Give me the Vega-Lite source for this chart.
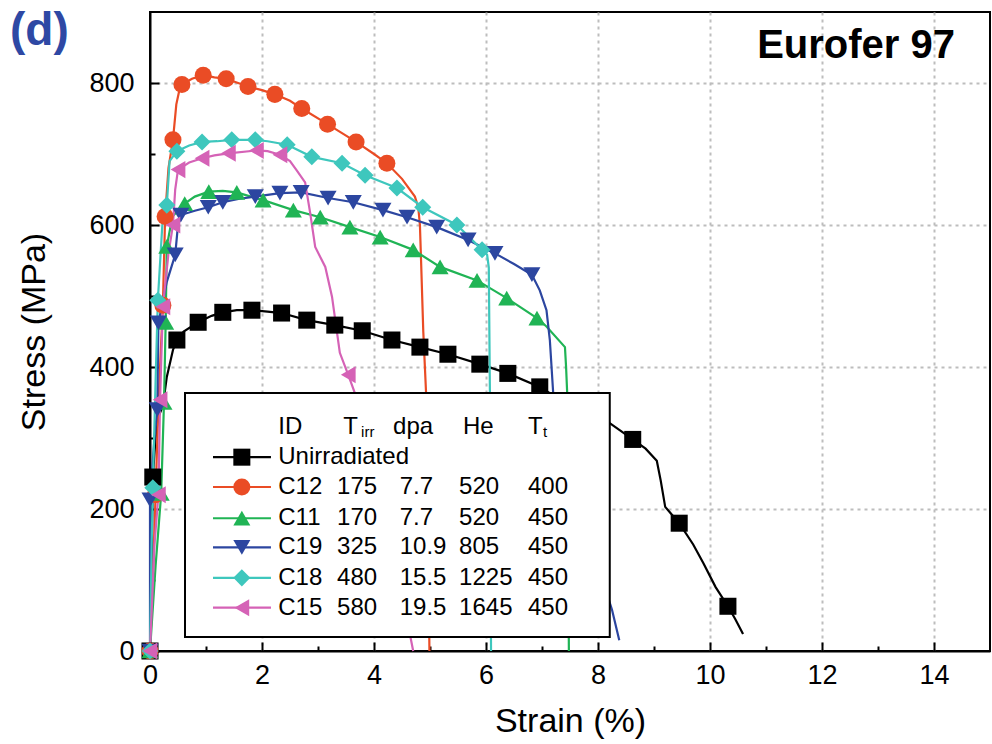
{
 "$schema": "https://vega.github.io/schema/vega-lite/v6.json",
 "width": 840, "height": 639,
 "autosize": {"type": "none"},
 "padding": {"left": 150, "top": 12, "right": 2, "bottom": 93},
 "background": "white",
 "config": {"view": {"stroke": "black", "strokeWidth": 2}, "font": "Liberation Sans"},
 "datasets": {
  "curves": [
   {"s":"Unirradiated","x":0,"y":0},{"s":"Unirradiated","x":0.03,"y":120},{"s":"Unirradiated","x":0.05,"y":245},{"s":"Unirradiated","x":0.1,"y":300},{"s":"Unirradiated","x":0.15,"y":330},{"s":"Unirradiated","x":0.23,"y":345},{"s":"Unirradiated","x":0.3,"y":386},{"s":"Unirradiated","x":0.41,"y":424},{"s":"Unirradiated","x":0.48,"y":438},{"s":"Unirradiated","x":0.6,"y":450},{"s":"Unirradiated","x":0.86,"y":463},{"s":"Unirradiated","x":1.1,"y":472},{"s":"Unirradiated","x":1.3,"y":477},{"s":"Unirradiated","x":1.55,"y":480},{"s":"Unirradiated","x":1.82,"y":480},{"s":"Unirradiated","x":2.1,"y":478},{"s":"Unirradiated","x":2.35,"y":476},{"s":"Unirradiated","x":2.8,"y":466},{"s":"Unirradiated","x":3.3,"y":459},{"s":"Unirradiated","x":3.79,"y":451},{"s":"Unirradiated","x":4.32,"y":438},{"s":"Unirradiated","x":4.82,"y":428},{"s":"Unirradiated","x":5.32,"y":418},{"s":"Unirradiated","x":5.89,"y":404},{"s":"Unirradiated","x":6.39,"y":391},{"s":"Unirradiated","x":6.96,"y":372},{"s":"Unirradiated","x":7.14,"y":363},{"s":"Unirradiated","x":7.6,"y":345},{"s":"Unirradiated","x":8.0,"y":330},{"s":"Unirradiated","x":8.21,"y":321},{"s":"Unirradiated","x":8.62,"y":298},{"s":"Unirradiated","x":8.85,"y":285},{"s":"Unirradiated","x":9.05,"y":268},{"s":"Unirradiated","x":9.12,"y":240},{"s":"Unirradiated","x":9.2,"y":203},{"s":"Unirradiated","x":9.45,"y":180},{"s":"Unirradiated","x":9.7,"y":150},{"s":"Unirradiated","x":9.88,"y":124},{"s":"Unirradiated","x":10.1,"y":90},{"s":"Unirradiated","x":10.32,"y":63},{"s":"Unirradiated","x":10.45,"y":45},{"s":"Unirradiated","x":10.59,"y":24},
   {"s":"C12","x":0,"y":0},{"s":"C12","x":0.05,"y":100},{"s":"C12","x":0.1,"y":220},{"s":"C12","x":0.15,"y":350},{"s":"C12","x":0.23,"y":487},{"s":"C12","x":0.27,"y":612},{"s":"C12","x":0.33,"y":680},{"s":"C12","x":0.41,"y":720},{"s":"C12","x":0.47,"y":770},{"s":"C12","x":0.53,"y":792},{"s":"C12","x":0.57,"y":798},{"s":"C12","x":0.75,"y":806},{"s":"C12","x":0.95,"y":811},{"s":"C12","x":1.15,"y":808},{"s":"C12","x":1.36,"y":806},{"s":"C12","x":1.75,"y":795},{"s":"C12","x":2.0,"y":790},{"s":"C12","x":2.23,"y":784},{"s":"C12","x":2.5,"y":775},{"s":"C12","x":2.71,"y":764},{"s":"C12","x":3.17,"y":742},{"s":"C12","x":3.68,"y":717},{"s":"C12","x":4.0,"y":700},{"s":"C12","x":4.23,"y":687},{"s":"C12","x":4.5,"y":665},{"s":"C12","x":4.73,"y":640},{"s":"C12","x":4.79,"y":625},{"s":"C12","x":4.82,"y":600},{"s":"C12","x":4.84,"y":551},{"s":"C12","x":4.88,"y":450},{"s":"C12","x":4.93,"y":363},{"s":"C12","x":4.97,"y":150},{"s":"C12","x":4.99,"y":0},
   {"s":"C11","x":0,"y":0},{"s":"C11","x":0.1,"y":120},{"s":"C11","x":0.2,"y":222},{"s":"C11","x":0.25,"y":350},{"s":"C11","x":0.28,"y":463},{"s":"C11","x":0.3,"y":570},{"s":"C11","x":0.4,"y":612},{"s":"C11","x":0.62,"y":630},{"s":"C11","x":0.8,"y":640},{"s":"C11","x":1.05,"y":647},{"s":"C11","x":1.3,"y":648},{"s":"C11","x":1.55,"y":646},{"s":"C11","x":1.8,"y":640},{"s":"C11","x":2.02,"y":635},{"s":"C11","x":2.56,"y":621},{"s":"C11","x":3.04,"y":611},{"s":"C11","x":3.57,"y":597},{"s":"C11","x":4.11,"y":583},{"s":"C11","x":4.7,"y":565},{"s":"C11","x":5.18,"y":541},{"s":"C11","x":5.84,"y":522},{"s":"C11","x":6.37,"y":497},{"s":"C11","x":6.91,"y":469},{"s":"C11","x":7.08,"y":457},{"s":"C11","x":7.41,"y":428},{"s":"C11","x":7.43,"y":400},{"s":"C11","x":7.45,"y":363},{"s":"C11","x":7.47,"y":150},{"s":"C11","x":7.48,"y":0},
   {"s":"C19","x":0,"y":0},{"s":"C19","x":0.0,"y":213},{"s":"C19","x":0.08,"y":300},{"s":"C19","x":0.13,"y":340},{"s":"C19","x":0.15,"y":462},{"s":"C19","x":0.3,"y":520},{"s":"C19","x":0.45,"y":558},{"s":"C19","x":0.5,"y":600},{"s":"C19","x":0.55,"y":614},{"s":"C19","x":0.8,"y":620},{"s":"C19","x":1.04,"y":625},{"s":"C19","x":1.3,"y":632},{"s":"C19","x":1.6,"y":637},{"s":"C19","x":1.88,"y":640},{"s":"C19","x":2.32,"y":645},{"s":"C19","x":2.7,"y":646},{"s":"C19","x":3.18,"y":638},{"s":"C19","x":3.63,"y":632},{"s":"C19","x":4.16,"y":621},{"s":"C19","x":4.59,"y":611},{"s":"C19","x":5.12,"y":597},{"s":"C19","x":5.68,"y":579},{"s":"C19","x":6.16,"y":560},{"s":"C19","x":6.5,"y":545},{"s":"C19","x":6.82,"y":530},{"s":"C19","x":6.96,"y":508},{"s":"C19","x":7.08,"y":480},{"s":"C19","x":7.14,"y":438},{"s":"C19","x":7.2,"y":363},{"s":"C19","x":7.3,"y":300},{"s":"C19","x":7.6,"y":200},{"s":"C19","x":8.0,"y":120},{"s":"C19","x":8.25,"y":58},{"s":"C19","x":8.38,"y":15},
   {"s":"C18","x":0,"y":0},{"s":"C18","x":0.03,"y":150},{"s":"C18","x":0.05,"y":230},{"s":"C18","x":0.1,"y":380},{"s":"C18","x":0.14,"y":494},{"s":"C18","x":0.22,"y":600},{"s":"C18","x":0.3,"y":628},{"s":"C18","x":0.35,"y":690},{"s":"C18","x":0.48,"y":704},{"s":"C18","x":0.7,"y":712},{"s":"C18","x":0.93,"y":717},{"s":"C18","x":1.2,"y":718},{"s":"C18","x":1.46,"y":720},{"s":"C18","x":1.88,"y":720},{"s":"C18","x":2.1,"y":718},{"s":"C18","x":2.45,"y":713},{"s":"C18","x":2.89,"y":696},{"s":"C18","x":3.43,"y":687},{"s":"C18","x":3.84,"y":670},{"s":"C18","x":4.41,"y":652},{"s":"C18","x":4.87,"y":625},{"s":"C18","x":5.48,"y":600},{"s":"C18","x":5.93,"y":565},{"s":"C18","x":6.02,"y":558},{"s":"C18","x":6.05,"y":540},{"s":"C18","x":6.07,"y":363},{"s":"C18","x":6.09,"y":0},
   {"s":"C15","x":0,"y":0},{"s":"C15","x":0.08,"y":150},{"s":"C15","x":0.15,"y":220},{"s":"C15","x":0.18,"y":354},{"s":"C15","x":0.23,"y":485},{"s":"C15","x":0.33,"y":560},{"s":"C15","x":0.41,"y":600},{"s":"C15","x":0.45,"y":650},{"s":"C15","x":0.5,"y":678},{"s":"C15","x":0.7,"y":688},{"s":"C15","x":0.93,"y":694},{"s":"C15","x":1.15,"y":698},{"s":"C15","x":1.4,"y":701},{"s":"C15","x":1.9,"y":705},{"s":"C15","x":2.1,"y":704},{"s":"C15","x":2.32,"y":699},{"s":"C15","x":2.5,"y":690},{"s":"C15","x":2.62,"y":677},{"s":"C15","x":2.77,"y":660},{"s":"C15","x":2.86,"y":617},{"s":"C15","x":2.95,"y":569},{"s":"C15","x":3.13,"y":541},{"s":"C15","x":3.25,"y":499},{"s":"C15","x":3.39,"y":420},{"s":"C15","x":3.54,"y":389},{"s":"C15","x":3.66,"y":363},{"s":"C15","x":4.0,"y":250},{"s":"C15","x":4.4,"y":120},{"s":"C15","x":4.7,"y":0}
  ],
  "markers": [
   {"s":"Unirradiated","x":0,"y":0},{"s":"Unirradiated","x":0.05,"y":245},{"s":"Unirradiated","x":0.48,"y":438},{"s":"Unirradiated","x":0.86,"y":463},{"s":"Unirradiated","x":1.3,"y":477},{"s":"Unirradiated","x":1.82,"y":480},{"s":"Unirradiated","x":2.35,"y":476},{"s":"Unirradiated","x":2.8,"y":466},{"s":"Unirradiated","x":3.3,"y":459},{"s":"Unirradiated","x":3.79,"y":451},{"s":"Unirradiated","x":4.32,"y":438},{"s":"Unirradiated","x":4.82,"y":428},{"s":"Unirradiated","x":5.32,"y":418},{"s":"Unirradiated","x":5.89,"y":404},{"s":"Unirradiated","x":6.39,"y":391},{"s":"Unirradiated","x":6.96,"y":372},{"s":"Unirradiated","x":8.62,"y":298},{"s":"Unirradiated","x":9.45,"y":180},{"s":"Unirradiated","x":10.32,"y":63},
   {"s":"C12","x":0,"y":0},{"s":"C12","x":0.1,"y":220},{"s":"C12","x":0.23,"y":487},{"s":"C12","x":0.27,"y":612},{"s":"C12","x":0.41,"y":720},{"s":"C12","x":0.57,"y":798},{"s":"C12","x":0.95,"y":811},{"s":"C12","x":1.36,"y":806},{"s":"C12","x":1.75,"y":795},{"s":"C12","x":2.23,"y":784},{"s":"C12","x":2.71,"y":764},{"s":"C12","x":3.17,"y":742},{"s":"C12","x":3.68,"y":717},{"s":"C12","x":4.23,"y":687},
   {"s":"C11","x":0,"y":0},{"s":"C11","x":0.2,"y":222},{"s":"C11","x":0.25,"y":350},{"s":"C11","x":0.28,"y":463},{"s":"C11","x":0.3,"y":570},{"s":"C11","x":0.62,"y":630},{"s":"C11","x":1.05,"y":647},{"s":"C11","x":1.55,"y":646},{"s":"C11","x":2.02,"y":635},{"s":"C11","x":2.56,"y":621},{"s":"C11","x":3.04,"y":611},{"s":"C11","x":3.57,"y":597},{"s":"C11","x":4.11,"y":583},{"s":"C11","x":4.7,"y":565},{"s":"C11","x":5.18,"y":541},{"s":"C11","x":5.84,"y":522},{"s":"C11","x":6.37,"y":497},{"s":"C11","x":6.91,"y":469},
   {"s":"C19","x":0,"y":0},{"s":"C19","x":0,"y":213},{"s":"C19","x":0.13,"y":340},{"s":"C19","x":0.15,"y":462},{"s":"C19","x":0.45,"y":558},{"s":"C19","x":0.55,"y":614},{"s":"C19","x":1.04,"y":625},{"s":"C19","x":1.3,"y":632},{"s":"C19","x":1.88,"y":640},{"s":"C19","x":2.32,"y":645},{"s":"C19","x":2.7,"y":646},{"s":"C19","x":3.18,"y":638},{"s":"C19","x":3.63,"y":632},{"s":"C19","x":4.16,"y":621},{"s":"C19","x":4.59,"y":611},{"s":"C19","x":5.12,"y":597},{"s":"C19","x":5.68,"y":579},{"s":"C19","x":6.16,"y":560},{"s":"C19","x":6.82,"y":530},
   {"s":"C18","x":0,"y":0},{"s":"C18","x":0.05,"y":230},{"s":"C18","x":0.14,"y":494},{"s":"C18","x":0.3,"y":628},{"s":"C18","x":0.48,"y":704},{"s":"C18","x":0.93,"y":717},{"s":"C18","x":1.46,"y":720},{"s":"C18","x":1.88,"y":720},{"s":"C18","x":2.45,"y":713},{"s":"C18","x":2.89,"y":696},{"s":"C18","x":3.43,"y":687},{"s":"C18","x":3.84,"y":670},{"s":"C18","x":4.41,"y":652},{"s":"C18","x":4.87,"y":625},{"s":"C18","x":5.48,"y":600},{"s":"C18","x":5.93,"y":565},
   {"s":"C15","x":0,"y":0},{"s":"C15","x":0.15,"y":220},{"s":"C15","x":0.18,"y":354},{"s":"C15","x":0.23,"y":485},{"s":"C15","x":0.41,"y":600},{"s":"C15","x":0.5,"y":678},{"s":"C15","x":0.93,"y":694},{"s":"C15","x":1.4,"y":701},{"s":"C15","x":1.9,"y":705},{"s":"C15","x":2.32,"y":699},{"s":"C15","x":3.54,"y":389}
  ],
  "legbox": [{"x":0.625,"x2":8.21,"y":19.7,"y2":363.4}],
  "legline": [
   {"s":"Unirradiated","x":1.125,"y":273},{"s":"Unirradiated","x":2.16,"y":273},
   {"s":"C12","x":1.125,"y":231},{"s":"C12","x":2.16,"y":231},
   {"s":"C11","x":1.125,"y":187},{"s":"C11","x":2.16,"y":187},
   {"s":"C19","x":1.125,"y":146},{"s":"C19","x":2.16,"y":146},
   {"s":"C18","x":1.125,"y":103},{"s":"C18","x":2.16,"y":103},
   {"s":"C15","x":1.125,"y":61},{"s":"C15","x":2.16,"y":61}
  ],
  "legpt": [
   {"s":"Unirradiated","x":1.64,"y":273},{"s":"C12","x":1.64,"y":231},{"s":"C11","x":1.64,"y":187},{"s":"C19","x":1.64,"y":146},{"s":"C18","x":1.64,"y":103},{"s":"C15","x":1.64,"y":61}
  ],
  "legtxt": [
   {"x":2.29,"y":316,"t":"ID"},{"x":3.45,"y":316,"t":"T"},{"x":4.34,"y":316,"t":"dpa"},{"x":5.59,"y":316,"t":"He"},{"x":6.75,"y":316,"t":"T"},
   {"x":2.29,"y":273,"t":"Unirradiated"},
   {"x":2.29,"y":231,"t":"C12"},{"x":3.34,"y":231,"t":"175"},{"x":4.46,"y":231,"t":"7.7"},{"x":5.52,"y":231,"t":"520"},{"x":6.75,"y":231,"t":"400"},
   {"x":2.29,"y":187,"t":"C11"},{"x":3.34,"y":187,"t":"170"},{"x":4.46,"y":187,"t":"7.7"},{"x":5.52,"y":187,"t":"520"},{"x":6.75,"y":187,"t":"450"},
   {"x":2.29,"y":146,"t":"C19"},{"x":3.34,"y":146,"t":"325"},{"x":4.46,"y":146,"t":"10.9"},{"x":5.52,"y":146,"t":"805"},{"x":6.75,"y":146,"t":"450"},
   {"x":2.29,"y":103,"t":"C18"},{"x":3.34,"y":103,"t":"480"},{"x":4.46,"y":103,"t":"15.5"},{"x":5.52,"y":103,"t":"1225"},{"x":6.75,"y":103,"t":"450"},
   {"x":2.29,"y":61,"t":"C15"},{"x":3.34,"y":61,"t":"580"},{"x":4.46,"y":61,"t":"19.5"},{"x":5.52,"y":61,"t":"1645"},{"x":6.75,"y":61,"t":"450"}
  ],
  "legsub": [{"x":3.77,"y":308,"t":"irr"},{"x":7.02,"y":308,"t":"t"}],
  "labels": [{"x":14.375,"y":852,"t":"Eurofer 97"}],
  "panel": [{"x":-2.5,"y":873,"t":"(d)"}]
 },
 "encoding": {
  "x": {"field":"x","type":"quantitative","scale":{"domain":[0,15],"nice":false,"zero":false},
   "axis":{"title":"Strain (%)","values":[0,1,2,3,4,5,6,7,8,9,10,11,12,13,14],
    "labelExpr":"datum.value % 2 === 0 ? datum.label : ''",
    "tickSize":{"condition":{"test":"datum.value % 2 === 0","value":-9},"value":-5},
    "gridOpacity":{"condition":{"test":"datum.value % 2 === 0 && datum.value > 0","value":1},"value":0},
    "grid":true,"gridColor":"#bdbdbd","gridDash":[3,4],"gridWidth":2,
    "domainColor":"black","domainWidth":2,"tickColor":"black","tickWidth":2,
    "labelFontSize":27,"labelColor":"black","labelPadding":20,"labelFlush":false,"labelOverlap":false,
    "titleFontSize":34,"titleFontWeight":"normal","titleColor":"black","titlePadding":12}},
  "y": {"field":"y","type":"quantitative","scale":{"domain":[0,900],"nice":false,"zero":false},
   "axis":{"title":"Stress (MPa)","values":[0,100,200,300,400,500,600,700,800],
    "labelExpr":"datum.value % 200 === 0 ? datum.label : ''",
    "tickSize":{"condition":{"test":"datum.value % 200 === 0","value":-9},"value":-5},
    "gridOpacity":{"condition":{"test":"datum.value % 200 === 0 && datum.value > 0","value":1},"value":0},
    "grid":true,"gridColor":"#bdbdbd","gridDash":[3,4],"gridWidth":2,
    "domainColor":"black","domainWidth":2,"tickColor":"black","tickWidth":2,
    "labelFontSize":27,"labelColor":"black","labelPadding":25,"labelFlush":false,"labelOverlap":false,
    "titleFontSize":34,"titleFontWeight":"normal","titleColor":"black","titlePadding":37}}
 },
 "layer": [
  {"data":{"name":"curves"},"mark":{"type":"line","strokeWidth":2.2},
   "encoding":{"color":{"field":"s","type":"nominal","scale":{"domain":["Unirradiated","C12","C11","C19","C18","C15"],"range":["#000000","#ea4c25","#20b455","#2c46a0","#3ec7bd","#d562b6"]},"legend":null},"order":{"value":null}}},
  {"data":{"name":"markers"},"mark":{"type":"point","filled":true,"opacity":1,"size":290},
   "encoding":{"color":{"field":"s","type":"nominal","legend":null},
    "shape":{"field":"s","type":"nominal","scale":{"domain":["Unirradiated","C12","C11","C19","C18","C15"],"range":["square","circle","triangle-up","triangle-down","diamond","triangle-left"]},"legend":null}}},
  {"data":{"name":"legbox"},"mark":{"type":"rect","fill":"white","stroke":"black","strokeWidth":2},
   "encoding":{"x2":{"field":"x2"},"y2":{"field":"y2"}}},
  {"data":{"name":"legline"},"mark":{"type":"line","strokeWidth":2.2},
   "encoding":{"color":{"field":"s","type":"nominal","legend":null},"detail":{"field":"s"}}},
  {"data":{"name":"legpt"},"mark":{"type":"point","filled":true,"opacity":1,"size":290},
   "encoding":{"color":{"field":"s","type":"nominal","legend":null},"shape":{"field":"s","type":"nominal","legend":null}}},
  {"data":{"name":"legtxt"},"mark":{"type":"text","align":"left","baseline":"middle","fontSize":24,"color":"black"},
   "encoding":{"text":{"field":"t"}}},
  {"data":{"name":"legsub"},"mark":{"type":"text","align":"left","baseline":"middle","fontSize":15,"color":"black"},
   "encoding":{"text":{"field":"t"}}},
  {"data":{"name":"labels"},"mark":{"type":"text","align":"right","baseline":"middle","fontSize":40,"fontWeight":"bold","color":"black"},
   "encoding":{"text":{"field":"t"}}},
  {"data":{"name":"panel"},"mark":{"type":"text","align":"left","baseline":"middle","fontSize":46,"fontWeight":"bold","color":"#2e48a4"},
   "encoding":{"text":{"field":"t"}}}
 ]
}
